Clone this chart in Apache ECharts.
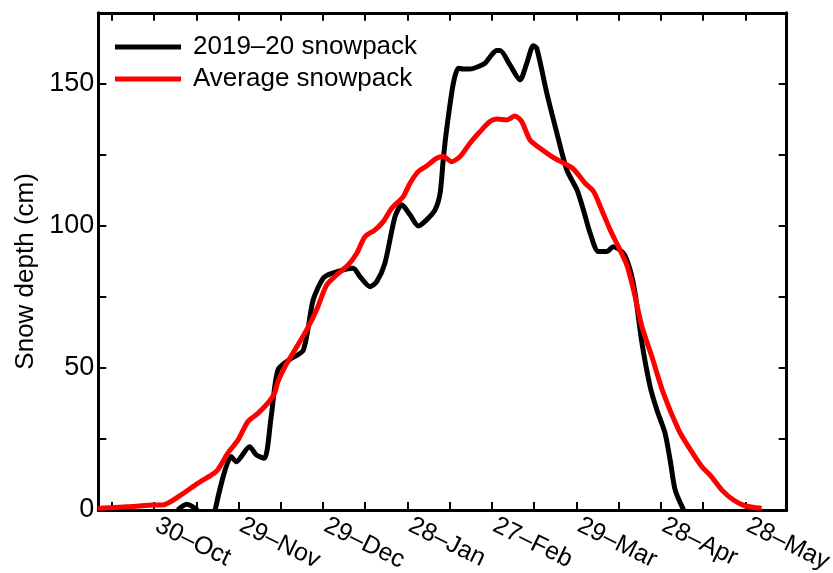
<!DOCTYPE html>
<html>
<head>
<meta charset="utf-8">
<script src="https://cdn.jsdelivr.net/npm/echarts@6/dist/echarts.min.js"></script>
<style>html,body{margin:0;padding:0;background:#fff}#c{width:833px;height:573px}</style>
</head>
<body>
<div id="c"></div>
<script>
// x = days, where 30-Oct = day 30 (ticks every 15 days)
const tickDays = [15,30,45,60,75,90,105,120,135,150,165,180,195,210,225,240];
const labelDays = [30,60,90,120,150,180,210,240];
const tickLabels = ['30\u2013Oct','29\u2013Nov','29\u2013Dec','28\u2013Jan','27\u2013Feb','29\u2013Mar','28\u2013Apr','28\u2013May'];
const yLabelValues = [0,50,100,150];

const seasonDays = [38.4,41.6,45.5,48.0,51.7,57.4,59.2,63.9,66.3,69.2,71.6,74.0,78.2,83.0,86.5,90.1,93.1,100.7,103.1,106.7,109.1,112.0,115.6,118.0,120.9,123.9,126.8,129.8,131.6,132.7,133.9,136.3,138.1,139.8,142.2,145.2,147.6,149.9,151.7,152.9,156.4,160.0,162.4,164.7,165.9,169.5,173.1,176.6,180.2,182.5,184.9,187.8,190.8,193.1,196.7,199.1,200.9,203.3,206.2,208.6,211.5,213.3,215.1,218.1];
const seasonDepth = [0,2,0,null,0,18.8,17,22.3,19.4,18.2,32.9,49.3,53,56.3,73.9,81.6,83.3,85.1,82.2,78.6,80.4,86.9,103.3,107.4,103.9,100,102.1,105.6,111.5,123.2,133.8,150.2,155.5,155.2,155.2,156.1,157.3,160.2,161.7,161.7,156.7,151.4,157.3,163.4,162.6,146.7,132.6,119.7,112.7,105.6,97.4,91,91,92.7,90.4,84.5,76,58.7,43.4,35.2,27,17.6,7,0];

const avgDays = [10.0,21.8,30.1,33.1,39.6,45.5,50.3,52.6,56.2,59.8,63.3,66.9,70.4,72.8,74.0,76.8,80.0,84.2,87.7,91.3,94.8,99.0,102.0,104.9,108.5,111.4,114.4,118.5,120.9,123.8,126.8,130.4,132.7,135.7,138.7,142.2,145.8,149.3,151.7,155.3,158.2,160.6,163.5,167.1,171.3,175.4,179.0,183.1,186.1,189.0,192.0,194.9,197.9,200.3,203.3,206.8,210.9,216.3,219.8,224.6,227.5,231.7,235.8,240.0,245.8];
const avgDepth = [0.6,1.2,1.8,1.8,5.3,9.4,12.3,14.1,20,24.6,31.1,34,37.6,41.1,45.2,51,56.3,63.4,70.4,79.2,82.7,86.3,90.4,96.2,98.6,101.5,106.2,110.3,115,119.1,121.1,123.8,124.4,122.6,124.4,129.1,133.2,136.7,137.6,137.3,138.7,136.7,130.3,127.3,124.4,122.1,120,115,112.1,105.6,98.6,92.7,86.3,77.5,64.5,54,41.1,28.2,22.3,15.2,12.3,7,3.5,1.4,0.6];

const zip = (xs, ys) => xs.map((x, i) => [x, ys[i] === null ? '-' : ys[i]]);

const FONT = 'Liberation Sans';
const axisLineStyle = { color: '#000', width: 3 };
const tickStyle = { color: '#000', width: 2 };

const chart = echarts.init(document.getElementById('c'));
chart.setOption({
  animation: false,
  grid: { left: 98.3, right: 46.3, top: 12.8, bottom: 63, containLabel: false, outerBoundsMode: 'none' },
  legend: {
    left: 110, top: 29, orient: 'vertical', itemGap: 6,
    icon: 'rect', itemWidth: 66, itemHeight: 5,
    textStyle: { fontFamily: FONT, fontSize: 26, color: '#000', padding: [0,0,0,7] },
    data: ['2019\u201320 snowpack', 'Average snowpack']
  },
  xAxis: [{
    type: 'value', position: 'bottom', min: 10.2, max: 254.7,
    splitLine: { show: false },
    axisLine: { show: true, onZero: false, lineStyle: axisLineStyle },
    axisTick: { show: true, inside: true, length: 8, lineStyle: tickStyle, customValues: tickDays },
    axisLabel: {
      show: true, rotate: -26, margin: -1, hideOverlap: false,
      align: 'left', verticalAlign: 'top', padding: [0, 0, 0, 9],
      fontFamily: FONT, fontSize: 25, color: '#000',
      customValues: labelDays,
      formatter: v => { const i = labelDays.indexOf(Math.round(v)); return i >= 0 ? tickLabels[i] : ''; }
    }
  }, {
    type: 'value', position: 'top', min: 10.2, max: 254.7,
    splitLine: { show: false },
    axisLine: { show: true, onZero: false, lineStyle: axisLineStyle },
    axisTick: { show: true, inside: true, length: 8, lineStyle: tickStyle, customValues: tickDays },
    axisLabel: { show: false }
  }],
  yAxis: [{
    type: 'value', position: 'left', min: 0, max: 175, interval: 25,
    name: 'Snow depth (cm)', nameLocation: 'middle', nameGap: 55,
    nameTextStyle: { fontFamily: FONT, fontSize: 26, color: '#000', padding: [0, 20, 0, 0] },
    splitLine: { show: false },
    axisLine: { show: true, onZero: false, lineStyle: axisLineStyle },
    axisTick: { show: true, inside: true, length: 8, lineStyle: tickStyle },
    axisLabel: {
      margin: 4, fontFamily: FONT, fontSize: 27, color: '#000',
      formatter: v => yLabelValues.indexOf(v) >= 0 ? String(v) : ''
    }
  }, {
    type: 'value', position: 'right', min: 0, max: 175, interval: 25,
    splitLine: { show: false },
    axisLine: { show: true, onZero: false, lineStyle: axisLineStyle },
    axisTick: { show: true, inside: true, length: 8, lineStyle: tickStyle },
    axisLabel: { show: false }
  }],
  series: [{
    name: '2019\u201320 snowpack', type: 'line', xAxisIndex: 0, yAxisIndex: 0,
    data: zip(seasonDays, seasonDepth), showSymbol: false, smooth: 0.25, connectNulls: false,
    lineStyle: { color: '#000', width: 5 }, itemStyle: { color: '#000' }
  }, {
    name: 'Average snowpack', type: 'line', xAxisIndex: 0, yAxisIndex: 0,
    data: zip(avgDays, avgDepth), showSymbol: false, smooth: 0.25,
    lineStyle: { color: '#ff0000', width: 5 }, itemStyle: { color: '#ff0000' }
  }]
});
</script>
</body>
</html>
